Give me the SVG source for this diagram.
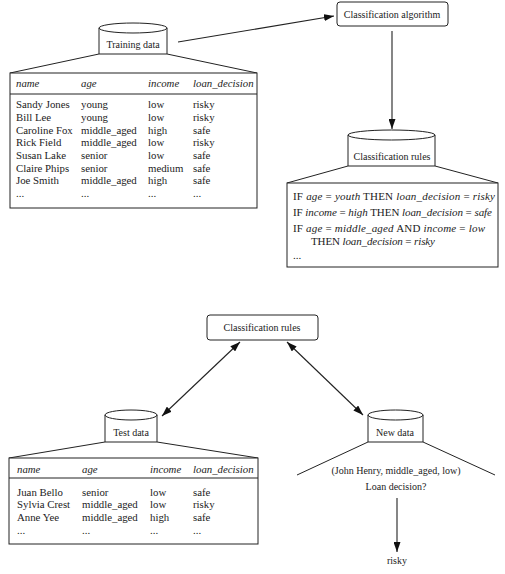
<svg xmlns="http://www.w3.org/2000/svg" width="505" height="574" viewBox="0 0 505 574">
<style>
  text { font-family: "Liberation Serif", "Times New Roman", serif; fill: #222; }
  .lbl { font-size: 10px; text-anchor: middle; }
  .tbl { font-size: 10.8px; }
  .hdr { font-size: 10.8px; font-style: italic; }
  .rule { font-size: 11px; }
  .i { font-style: italic; }
  .shape { fill: #fff; stroke: #222; stroke-width: 1; }
  .edge { fill: none; stroke: #222; stroke-width: 1; }
  .conn { fill: none; stroke: #222; stroke-width: 1.1; }
</style>
<defs>
  <marker id="arr" markerWidth="10" markerHeight="7" refX="10" refY="3.5" orient="auto-start-reverse" markerUnits="userSpaceOnUse">
    <path d="M0,0 L10,3.5 L0,7 Z" fill="#111"/>
  </marker>
</defs>
<rect width="505" height="574" fill="#fff"/>

<g id="connectors">
  <line class="conn" x1="178" y1="42" x2="334" y2="16" marker-end="url(#arr)"/>
  <line class="conn" x1="392" y1="31" x2="392" y2="129" marker-end="url(#arr)"/>
  <line class="conn" x1="240" y1="342" x2="162" y2="416" marker-start="url(#arr)" marker-end="url(#arr)"/>
  <line class="conn" x1="287" y1="342" x2="363" y2="415" marker-start="url(#arr)" marker-end="url(#arr)"/>
  <line class="conn" x1="397" y1="498" x2="397" y2="552" marker-end="url(#arr)"/>
</g>

<g id="training-data">
  <path class="shape" d="M99,28 A34,5 0 0 1 167,28 L167,54 L99,54 Z"/>
  <path class="edge" d="M99,28 A34,5 0 0 0 167,28"/>
  <text class="lbl" x="133" y="48" font-size="10.4">Training data</text>
  <path class="edge" d="M99,54 L10,73 M167,54 L257,73"/>
  <rect class="shape" x="10" y="73" width="247" height="135" stroke-width="1.2"/>
  <line class="edge" x1="10" y1="94" x2="257" y2="94"/>
  <g class="hdr">
    <text x="16" y="87">name</text><text x="81" y="87">age</text><text x="148" y="87">income</text><text x="193" y="87">loan_decision</text>
  </g>
  <g class="tbl">
    <text x="16" y="108">Sandy Jones</text><text x="81" y="108">young</text><text x="148" y="108">low</text><text x="193" y="108">risky</text>
    <text x="16" y="121">Bill Lee</text><text x="81" y="121">young</text><text x="148" y="121">low</text><text x="193" y="121">risky</text>
    <text x="16" y="134">Caroline Fox</text><text x="81" y="134">middle_aged</text><text x="148" y="134">high</text><text x="193" y="134">safe</text>
    <text x="16" y="146">Rick Field</text><text x="81" y="146">middle_aged</text><text x="148" y="146">low</text><text x="193" y="146">risky</text>
    <text x="16" y="159">Susan Lake</text><text x="81" y="159">senior</text><text x="148" y="159">low</text><text x="193" y="159">safe</text>
    <text x="16" y="172">Claire Phips</text><text x="81" y="172">senior</text><text x="148" y="172">medium</text><text x="193" y="172">safe</text>
    <text x="16" y="184">Joe Smith</text><text x="81" y="184">middle_aged</text><text x="148" y="184">high</text><text x="193" y="184">safe</text>
    <text x="16" y="197">...</text><text x="81" y="197">...</text><text x="148" y="197">...</text><text x="193" y="197">...</text>
  </g>
</g>

<g id="classification-algorithm">
  <rect class="shape" x="337" y="2" width="111" height="24" rx="3"/>
  <text class="lbl" x="392" y="18">Classification algorithm</text>
</g>

<g id="classification-rules-store">
  <path class="shape" d="M348,135 A43.5,5 0 0 1 435,135 L435,166 L348,166 Z"/>
  <path class="edge" d="M348,135 A43.5,5 0 0 0 435,135"/>
  <text class="lbl" x="392" y="160">Classification rules</text>
  <path class="edge" d="M348,166 L287,183 M435,166 L498,183"/>
  <rect class="shape" x="287" y="183" width="211" height="84" stroke-width="1.2"/>
  <g class="rule">
    <text x="293" y="200" textLength="202" lengthAdjust="spacing">IF <tspan class="i">age</tspan> = <tspan class="i">youth</tspan> THEN <tspan class="i">loan_decision</tspan> = <tspan class="i">risky</tspan></text>
    <text x="293" y="216" textLength="199" lengthAdjust="spacing">IF <tspan class="i">income</tspan> = <tspan class="i">high</tspan> THEN <tspan class="i">loan_decision</tspan> = <tspan class="i">safe</tspan></text>
    <text x="293" y="232" textLength="192" lengthAdjust="spacing">IF <tspan class="i">age</tspan> = <tspan class="i">middle_aged</tspan> AND <tspan class="i">income</tspan> = <tspan class="i">low</tspan></text>
    <text x="311" y="245" textLength="124" lengthAdjust="spacing">THEN <tspan class="i">loan_decision</tspan> = <tspan class="i">risky</tspan></text>
    <text x="293" y="259">...</text>
  </g>
</g>

<g id="classification-rules">
  <rect class="shape" x="207" y="315" width="111" height="25" rx="3"/>
  <text class="lbl" x="262" y="331">Classification rules</text>
</g>

<g id="test-data">
  <path class="shape" d="M105,415 A26,5 0 0 1 157,415 L157,442 L105,442 Z"/>
  <path class="edge" d="M105,415 A26,5 0 0 0 157,415"/>
  <text class="lbl" x="131" y="436" font-size="10.4">Test data</text>
  <path class="edge" d="M105,442 L9,458 M157,442 L258,458"/>
  <rect class="shape" x="9" y="458" width="249" height="86" stroke-width="1.2"/>
  <line class="edge" x1="9" y1="478" x2="258" y2="478"/>
  <g class="hdr">
    <text x="17" y="473">name</text><text x="82" y="473">age</text><text x="150" y="473">income</text><text x="193" y="473">loan_decision</text>
  </g>
  <g class="tbl">
    <text x="17" y="496">Juan Bello</text><text x="82" y="496">senior</text><text x="150" y="496">low</text><text x="193" y="496">safe</text>
    <text x="17" y="508">Sylvia Crest</text><text x="82" y="508">middle_aged</text><text x="150" y="508">low</text><text x="193" y="508">risky</text>
    <text x="17" y="521">Anne Yee</text><text x="82" y="521">middle_aged</text><text x="150" y="521">high</text><text x="193" y="521">safe</text>
    <text x="17" y="534">...</text><text x="82" y="534">...</text><text x="150" y="534">...</text><text x="193" y="534">...</text>
  </g>
</g>

<g id="new-data">
  <path class="shape" d="M368,415 A27.5,5 0 0 1 423,415 L423,442 L368,442 Z"/>
  <path class="edge" d="M368,415 A27.5,5 0 0 0 423,415"/>
  <text class="lbl" x="395" y="436" font-size="10.4">New data</text>
  <path class="edge" d="M368,442 L297,475 M423,442 L495,475"/>
  <text class="lbl" x="396" y="474">(John Henry, middle_aged, low)</text>
  <text class="lbl" x="396" y="490">Loan decision?</text>
</g>

<g id="result">
  <text class="lbl" x="397" y="564">risky</text>
</g>
</svg>
